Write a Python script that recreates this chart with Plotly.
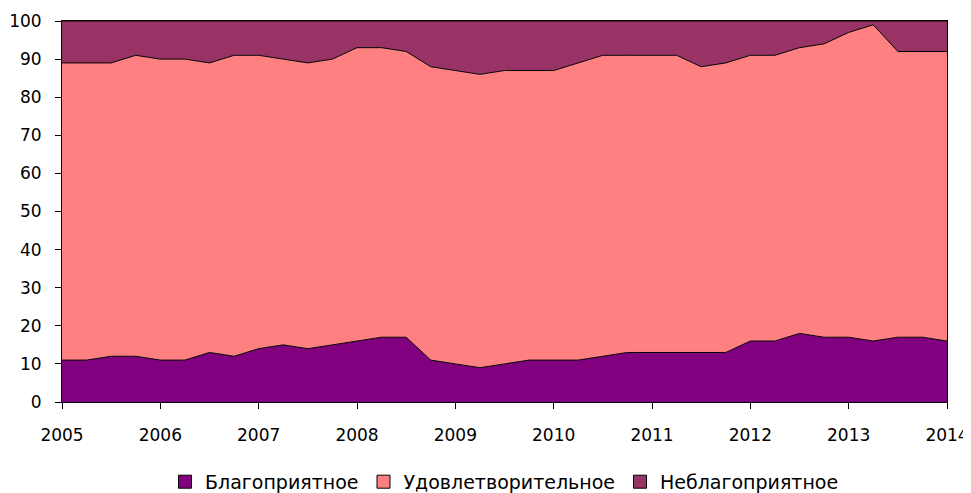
import plotly.graph_objects as go

# Quarterly periods, 2005 .. 2014
periods = [2005 + q / 4 for q in range(37)]
year_ticks = list(range(2005, 2015))

names = ["Благоприятное", "Удовлетворительное", "Неблагоприятное"]

favorable = [11, 11, 12, 12, 11, 11, 13, 12, 14, 15, 14, 15, 16, 17, 17, 11, 10, 9, 10, 11,
             11, 11, 12, 13, 13, 13, 13, 13, 16, 16, 18, 17, 17, 16, 17, 17, 16]
satisfactory = [78, 78, 77, 79, 79, 79, 76, 79, 77, 75, 75, 75, 77, 76, 75, 77, 77, 77, 77, 76,
                76, 78, 79, 78, 78, 78, 75, 76, 75, 75, 75, 77, 80, 83, 75, 75, 76]
unfavorable = [11, 11, 11, 9, 10, 10, 11, 9, 9, 10, 11, 10, 7, 7, 8, 12, 13, 14, 13, 13,
               13, 11, 9, 9, 9, 9, 12, 11, 9, 9, 7, 6, 3, 1, 8, 8, 8]

colors = ["#800080", "#FF8080", "#993366"]
series = [favorable, satisfactory, unfavorable]

fig = go.Figure()
for name, vals, col in zip(names, series, colors):
    fig.add_trace(go.Scatter(
        x=periods, y=vals, name=name, mode="lines",
        stackgroup="one", fillcolor=col,
        line=dict(color="black", width=1),
        showlegend=False, hoverinfo="skip",
    ))
# legend entries as square swatches
for name, col in zip(names, colors):
    fig.add_trace(go.Scatter(
        x=[None], y=[None], name=name, mode="markers",
        marker=dict(symbol="square", size=13, color=col,
                    line=dict(color="black", width=1)),
    ))

font = "DejaVu Sans, Verdana, sans-serif"
# page body has an 8px default margin, so the figure is sized to fill the rest
fig.update_layout(
    width=963, height=485,
    margin=dict(l=54, r=24, t=13, b=91),
    paper_bgcolor="white", plot_bgcolor="white",
    font=dict(family=font, size=17, color="black"),
    showlegend=True,
    legend=dict(orientation="h", x=0.5, xanchor="center",
                yref="container", y=0.023, yanchor="middle",
                traceorder="normal",
                font=dict(size=19, family=font), itemclick=False),
    xaxis=dict(range=[2005, 2014], tickvals=year_ticks,
               ticktext=[str(y) for y in year_ticks], automargin=False,
               showgrid=False, zeroline=False, showline=True, linecolor="black",
               linewidth=1, mirror=True, ticks="outside", ticklen=6, tickcolor="black",
               ticklabelstandoff=12, tickfont=dict(size=17)),
    yaxis=dict(range=[0, 100], dtick=10, tick0=0, automargin=False,
               showgrid=False, zeroline=False, showline=True, linecolor="black",
               linewidth=1, mirror=True, ticks="outside", ticklen=6, tickcolor="black",
               ticklabelstandoff=10, tickfont=dict(size=17)),
)

fig.write_html("out.html")
